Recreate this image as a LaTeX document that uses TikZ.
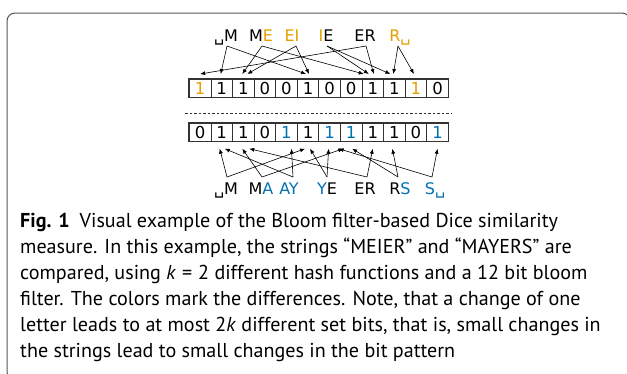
\documentclass[tikz,border=0pt]{standalone}
\usepackage{fontspec}
\setmainfont{PT Sans}
\newfontfamily\djv{DejaVu Sans}
\usetikzlibrary{arrows.meta,calc}
\definecolor{orn}{HTML}{E69F00}
\definecolor{blu}{HTML}{0072B2}
\definecolor{frm}{HTML}{555555}
\begin{document}
\begin{tikzpicture}[x=1pt,y=-1pt,
  cell/.style={draw=black!80, line width=0.7pt, minimum width=21.58pt, minimum height=18pt, inner sep=0pt, anchor=north west, font=\djv\fontsize{16.5}{16.5}\selectfont},
  lbl/.style={font=\djv\fontsize{16}{16}\selectfont, inner sep=0pt, anchor=base},
  arr/.style={-{Latex[length=5pt,width=4pt]}, line width=0.6pt},
  captxt/.style={anchor=base west, inner sep=0pt, font=\fontsize{20.1}{20.1}\selectfont}]
\useasboundingbox (0,0) rectangle (627,373);
\clip (0,0) rectangle (627,373);
\draw[frm, line width=1pt, rounded corners=8pt] (7,13) rectangle (630,380);

% top bit array
\foreach \b/\c [count=\i from 0] in {1/orn,1/black,1/black,0/black,0/black,1/black,0/black,0/black,1/black,1/black,1/orn,0/black}
  \node[cell, text=\c] (t\i) at ({189+\i*21.58},79) {\b};
\draw[black!80, line width=1.1pt] (t0.north west) rectangle (t11.south east);

% bottom bit array
\foreach \b/\c [count=\i from 0] in {0/black,1/black,1/black,0/black,1/blu,1/black,1/blu,1/blu,1/black,1/black,0/black,1/blu}
  \node[cell, text=\c] (d\i) at ({189+\i*21.58},123) {\b};
\draw[black!80, line width=1.1pt] (d0.north west) rectangle (d11.south east);

% dashed separator
\coordinate (sepL) at (185,113);
\coordinate (sepR) at (452,113);
\draw[black!80, line width=0.7pt, dash pattern=on 2.5pt off 2pt] (sepL) -- (sepR);

% top labels
\node[lbl] (tl1) at (226,41) {␣M};
\node[lbl] (tl2) at (261,41) {M\textcolor{orn}{E}};
\node[lbl] (tl3) at (292,41) {\textcolor{orn}{EI}};
\node[lbl] (tl4) at (326,41) {\textcolor{orn}{I}E};
\node[lbl] (tl5) at (365,41) {ER};
\node[lbl] (tl6) at (400,41) {\textcolor{orn}{R␣}};
\coordinate (ta1) at (227,46);
\coordinate (ta2) at (262,46);
\coordinate (ta3) at (296,46);
\coordinate (ta4) at (327,46);
\coordinate (ta5) at (366,46);
\coordinate (ta6) at (398,46);

% top arrows
\draw[arr] (ta1) -- ($(t1.north)+(-1,-5)$);
\draw[arr] (ta1) -- ($(t5.north)+(-2,-5)$);
\draw[arr] (ta2) -- ($(t2.north)+(-1,-5)$);
\draw[arr] (ta2) -- ($(t8.north)+(-9,-5)$);
\draw[arr] (ta3) -- ($(t2.north)+(4,-5)$);
\draw[arr] (ta3) -- ($(t5.north)+(1,-5)$);
\draw[arr] (ta4) -- ($(t8.north)+(-4,-5)$);
\draw[arr] (ta4) -- ($(t9.north)+(-4,-5)$);
\draw[arr] (ta5) -- ($(t0.north)+(0,-5)$);
\draw[arr] (ta5) -- ($(t8.north)+(1,-5)$);
\draw[arr] (ta6) -- ($(t9.north)+(-1,-5)$);
\draw[arr] (ta6) -- ($(t10.north)+(-2,-5)$);

% bottom labels
\node[lbl] (bl1) at (226,194) {␣M};
\node[lbl] (bl2) at (261,194) {M\textcolor{blu}{A}};
\node[lbl] (bl3) at (289,194) {\textcolor{blu}{AY}};
\node[lbl] (bl4) at (327,194) {\textcolor{blu}{Y}E};
\node[lbl] (bl5) at (365,194) {ER};
\node[lbl] (bl6) at (400,194) {R\textcolor{blu}{S}};
\node[lbl] (bl7) at (435,194) {\textcolor{blu}{S␣}};
\coordinate (ba1) at (227,177);
\coordinate (ba2) at (262,177);
\coordinate (ba3) at (293,177);
\coordinate (ba4) at (327,177);
\coordinate (ba5) at (367,177);
\coordinate (ba6) at (398,177);
\coordinate (ba7) at (432,177);

% bottom arrows
\draw[arr] (ba1) -- ($(d1.south)+(-2,7)$);
\draw[arr] (ba1) -- ($(d5.south)+(-3,7)$);
\draw[arr] (ba2) -- ($(d2.south)+(-1,7)$);
\draw[arr] (ba2) -- ($(d7.south)+(-8,7)$);
\draw[arr] (ba3) -- ($(d4.south)+(5,7)$);
\draw[arr] (ba3) -- ($(d1.south)+(3,7)$);
\draw[arr] (ba4) -- ($(d6.south)+(-1,7)$);
\draw[arr] (ba4) -- ($(d5.south)+(2,7)$);
\draw[arr] (ba5) -- ($(d8.south)+(0,7)$);
\draw[arr] (ba5) -- ($(d2.south)+(6,7)$);
\draw[arr] (ba6) -- ($(d9.south)+(-2,7)$);
\draw[arr] (ba6) -- ($(d7.south)+(1,7)$);
\draw[arr] (ba7) -- ($(d11.south)+(0,7)$);
\draw[arr] (ba7) -- ($(d6.south)+(9,7)$);

% caption
\node[captxt] (c1) at (20,227) {\textbf{Fig. 1}\hspace{10pt}Visual example of the Bloom filter-based Dice similarity};
\node[captxt] (c2) at (20,253) {measure. In this example, the strings “MEIER” and “MAYERS” are};
\node[captxt] (c3) at (20,279) {compared, using \textit{k}\hspace{0.3em}=\hspace{0.3em}2 different hash functions and a 12 bit bloom};
\node[captxt] (c4) at (20,305) {filter. The colors mark the differences. Note, that a change of one};
\node[captxt] (c5) at (20,331) {letter leads to at most 2\textit{k} different set bits, that is, small changes in};
\node[captxt] (c6) at (20,357) {the strings lead to small changes in the bit pattern};
\end{tikzpicture}
\end{document}
